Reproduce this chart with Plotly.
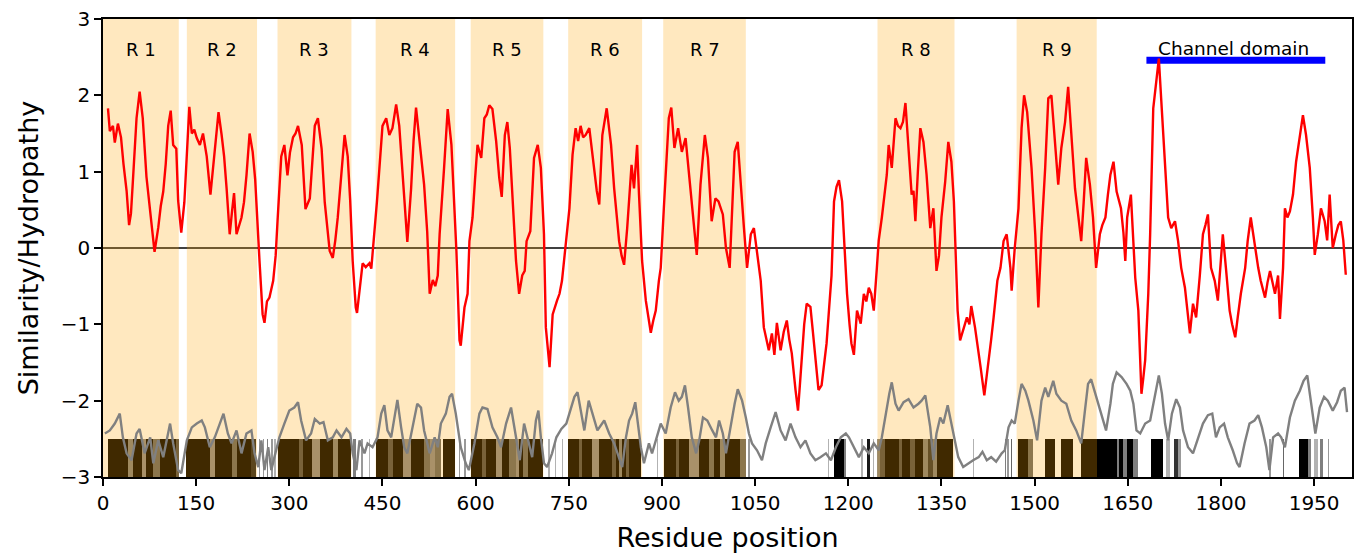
import plotly.graph_objects as go

# Repeat regions R1..R9 (residue start, residue end)
region_names = ["R 1", "R 2", "R 3", "R 4", "R 5", "R 6", "R 7", "R 8", "R 9"]
region_start = [0, 135, 281, 439, 592, 749, 902, 1247, 1471]
region_end = [122, 248, 400, 567, 709, 868, 1035, 1371, 1600]

# Channel domain span
channel_start = 1680
channel_end = 1968
channel_level = 2.46

# Hydropathy profile (residue, value)
hydro_pos = [8, 11, 16, 19, 24, 29, 33, 38, 42, 45, 48, 54, 59, 64, 70, 76, 80, 83, 89, 93, 97, 101, 105, 109, 113, 118, 121, 126, 131, 135, 139, 143, 147, 151, 156, 161, 167, 173, 177, 182, 186, 191, 195, 199, 204, 208, 211, 215, 219, 223, 227, 231, 236, 241, 245, 248, 252, 257, 260, 264, 268, 274, 278, 281, 284, 287, 292, 297, 301, 306, 310, 314, 320, 323, 326, 333, 337, 341, 346, 352, 357, 361, 365, 370, 374, 378, 384, 389, 394, 398, 402, 407, 409, 413, 416, 418, 423, 429, 432, 437, 441, 445, 450, 456, 461, 466, 472, 477, 482, 486, 490, 496, 500, 504, 509, 513, 517, 522, 526, 531, 535, 539, 542, 549, 555, 561, 565, 569, 574, 576, 582, 587, 590, 595, 599, 603, 609, 614, 618, 622, 627, 633, 638, 642, 647, 651, 655, 661, 665, 670, 675, 679, 682, 688, 694, 700, 705, 710, 713, 719, 724, 731, 735, 739, 744, 751, 756, 761, 765, 769, 773, 777, 783, 787, 791, 795, 799, 804, 811, 818, 823, 827, 831, 835, 839, 844, 851, 855, 860, 863, 868, 874, 882, 886, 890, 895, 898, 903, 907, 911, 915, 920, 926, 932, 938, 942, 946, 952, 956, 962, 969, 974, 980, 986, 991, 998, 1003, 1009, 1013, 1017, 1022, 1027, 1032, 1037, 1043, 1048, 1053, 1059, 1064, 1068, 1072, 1077, 1081, 1085, 1091, 1096, 1101, 1105, 1109, 1115, 1119, 1122, 1125, 1129, 1133, 1139, 1143, 1147, 1152, 1157, 1161, 1165, 1169, 1173, 1177, 1181, 1185, 1190, 1194, 1198, 1202, 1205, 1209, 1214, 1220, 1225, 1229, 1233, 1237, 1241, 1246, 1249, 1254, 1257, 1262, 1265, 1270, 1276, 1280, 1284, 1288, 1292, 1297, 1302, 1305, 1308, 1312, 1316, 1321, 1326, 1332, 1337, 1342, 1346, 1350, 1356, 1361, 1366, 1370, 1373, 1376, 1380, 1386, 1391, 1395, 1398, 1404, 1408, 1413, 1419, 1422, 1426, 1430, 1434, 1440, 1445, 1450, 1455, 1461, 1463, 1468, 1474, 1479, 1483, 1488, 1495, 1501, 1506, 1511, 1517, 1522, 1527, 1533, 1538, 1543, 1549, 1554, 1559, 1565, 1570, 1575, 1579, 1583, 1589, 1594, 1599, 1605, 1609, 1614, 1618, 1622, 1627, 1632, 1639, 1643, 1646, 1649, 1655, 1659, 1662, 1667, 1670, 1672, 1675, 1678, 1683, 1686, 1691, 1696, 1700, 1704, 1710, 1715, 1720, 1726, 1731, 1736, 1742, 1746, 1750, 1755, 1760, 1766, 1771, 1775, 1779, 1784, 1790, 1795, 1799, 1803, 1808, 1814, 1818, 1823, 1827, 1832, 1839, 1843, 1848, 1855, 1860, 1864, 1871, 1875, 1879, 1887, 1892, 1895, 1900, 1903, 1907, 1911, 1916, 1921, 1927, 1932, 1937, 1943, 1948, 1951, 1956, 1961, 1967, 1971, 1975, 1980, 1985, 1989, 1993, 1997, 2001]
hydro_val = [1.83, 1.53, 1.6, 1.38, 1.63, 1.45, 1.1, 0.75, 0.3, 0.45, 0.86, 1.7, 2.05, 1.7, 0.93, 0.45, 0.2, -0.05, 0.27, 0.55, 0.74, 1.1, 1.6, 1.8, 1.35, 1.3, 0.62, 0.2, 0.6, 1.3, 1.85, 1.5, 1.55, 1.44, 1.35, 1.5, 1.2, 0.7, 1.04, 1.4, 1.78, 1.48, 1.2, 0.78, 0.18, 0.5, 0.72, 0.18, 0.3, 0.4, 0.6, 0.95, 1.5, 1.26, 0.9, 0.4, -0.17, -0.87, -0.98, -0.7, -0.65, -0.43, -0.1, 0.35, 0.8, 1.2, 1.35, 0.95, 1.25, 1.45, 1.5, 1.6, 1.35, 0.9, 0.51, 0.65, 1.1, 1.6, 1.7, 1.3, 0.6, 0.25, -0.04, -0.13, 0.1, 0.4, 0.96, 1.48, 1.2, 0.62, -0.17, -0.78, -0.85, -0.55, -0.39, -0.2, -0.25, -0.2, -0.27, 0.16, 0.6, 1.04, 1.6, 1.7, 1.48, 1.57, 1.88, 1.6, 1.0, 0.5, 0.08, 0.77, 1.4, 1.84, 1.48, 1.2, 0.83, 0.21, -0.6, -0.42, -0.5, -0.36, 0.18, 1.03, 1.82, 1.35, 0.74, -0.04, -1.21, -1.28, -0.78, -0.6, 0.09, 0.4, 0.9, 1.35, 1.18, 1.7, 1.75, 1.87, 1.82, 1.4, 0.92, 0.67, 1.48, 1.65, 1.31, 0.4, -0.17, -0.6, -0.36, -0.3, 0.09, 0.22, 1.18, 1.35, 1.05, 0.18, -1.04, -1.56, -0.87, -0.69, -0.6, -0.43, 0.0, 0.52, 1.22, 1.57, 1.4, 1.6, 1.45, 1.48, 1.57, 1.3, 0.96, 0.75, 0.57, 1.48, 1.83, 1.35, 0.78, 0.4, 0.09, -0.1, -0.22, 0.26, 1.09, 0.78, 1.35, 0.7, -0.17, -0.69, -1.11, -0.95, -0.82, -0.43, -0.26, 0.52, 1.1, 1.7, 1.84, 1.31, 1.57, 1.26, 1.44, 1.1, 0.7, 0.18, -0.09, 0.83, 1.48, 1.18, 0.35, 0.65, 0.61, 0.44, 0.0, -0.26, 0.61, 1.26, 1.39, 0.78, 0.26, -0.26, 0.18, 0.26, -0.09, -0.43, -1.04, -1.2, -1.34, -1.12, -1.4, -0.98, -1.34, -1.1, -0.95, -1.2, -1.38, -1.86, -2.13, -1.8, -1.47, -1.0, -0.73, -0.77, -1.1, -1.43, -1.86, -1.8, -1.5, -1.25, -0.8, -0.36, 0.61, 0.8, 0.89, 0.61, 0.0, -0.6, -1.0, -1.25, -1.4, -0.82, -0.99, -0.6, -0.7, -0.52, -0.6, -0.82, -0.26, 0.1, 0.4, 0.61, 0.96, 1.35, 1.05, 1.7, 1.6, 1.57, 1.65, 1.9, 1.26, 0.7, 0.75, 0.35, 1.0, 1.57, 1.39, 0.96, 0.26, 0.52, -0.3, -0.1, 0.4, 0.87, 1.39, 1.13, 0.61, -0.26, -0.82, -1.21, -1.04, -0.91, -1.0, -0.76, -1.04, -1.3, -1.56, -1.93, -1.75, -1.47, -1.2, -0.91, -0.43, -0.26, 0.09, 0.18, -0.26, -0.56, 0.0, 0.52, 1.57, 2.0, 1.78, 1.05, 0.18, -0.78, 0.18, 1.05, 1.96, 2.0, 1.39, 0.83, 1.31, 1.65, 2.11, 1.48, 0.78, 0.44, 0.09, 0.6, 1.18, 0.83, 0.4, -0.26, 0.18, 0.3, 0.4, 0.7, 0.96, 1.13, 0.74, 0.52, 0.2, -0.17, 0.4, 0.7, 0.0, -0.39, -0.82, -1.5, -1.91, -1.7, -1.47, -0.6, 0.18, 1.83, 2.22, 2.48, 1.92, 1.05, 0.4, 0.26, 0.35, 0.09, -0.26, -0.52, -0.8, -1.12, -0.73, -0.91, -0.36, 0.18, 0.3, 0.44, -0.26, -0.43, -0.69, -0.2, 0.18, -0.26, -0.82, -1.0, -1.17, -0.91, -0.6, -0.26, 0.09, 0.4, 0.0, -0.26, -0.43, -0.65, -0.45, -0.3, -0.6, -0.36, -0.93, -0.26, 0.52, 0.4, 0.48, 0.7, 1.13, 1.48, 1.74, 1.48, 1.05, 0.4, -0.09, 0.18, 0.52, 0.35, 0.1, 0.7, 0.0, 0.18, 0.3, 0.35, 0.1, -0.35]

# Similarity profile (residue, value)
sim_pos = [3, 11, 19, 27, 32, 38, 46, 54, 59, 67, 76, 81, 89, 97, 108, 113, 121, 126, 135, 143, 151, 159, 164, 172, 180, 188, 194, 201, 207, 215, 223, 231, 239, 244, 250, 255, 260, 266, 271, 276, 284, 292, 300, 308, 314, 319, 327, 335, 341, 349, 355, 362, 370, 376, 384, 392, 398, 402, 408, 413, 421, 426, 434, 442, 448, 453, 458, 464, 469, 474, 480, 485, 490, 498, 506, 512, 517, 526, 534, 539, 544, 552, 558, 562, 568, 576, 584, 589, 598, 606, 611, 619, 627, 635, 641, 649, 657, 665, 671, 678, 683, 691, 697, 701, 705, 710, 715, 723, 730, 738, 746, 754, 759, 764, 770, 775, 782, 788, 796, 807, 815, 823, 831, 836, 842, 847, 852, 857, 860, 866, 871, 879, 884, 890, 898, 906, 914, 921, 927, 932, 937, 942, 948, 955, 960, 966, 973, 981, 987, 992, 998, 1003, 1011, 1017, 1022, 1029, 1035, 1040, 1045, 1053, 1061, 1067, 1075, 1083, 1091, 1099, 1107, 1115, 1123, 1131, 1139, 1147, 1155, 1164, 1172, 1180, 1188, 1196, 1201, 1209, 1217, 1225, 1233, 1241, 1249, 1254, 1260, 1266, 1270, 1276, 1281, 1289, 1297, 1305, 1313, 1318, 1324, 1332, 1337, 1342, 1348, 1353, 1360, 1366, 1372, 1377, 1385, 1393, 1401, 1410, 1416, 1423, 1430, 1438, 1447, 1452, 1458, 1463, 1468, 1474, 1479, 1485, 1490, 1498, 1504, 1511, 1517, 1522, 1530, 1535, 1543, 1551, 1559, 1567, 1575, 1581, 1586, 1591, 1599, 1607, 1615, 1622, 1626, 1632, 1640, 1648, 1654, 1659, 1664, 1670, 1678, 1686, 1694, 1700, 1705, 1710, 1715, 1721, 1728, 1734, 1739, 1747, 1755, 1763, 1771, 1779, 1786, 1792, 1798, 1805, 1811, 1819, 1826, 1830, 1838, 1846, 1854, 1860, 1866, 1873, 1878, 1884, 1892, 1897, 1903, 1911, 1919, 1927, 1933, 1939, 1945, 1952, 1959, 1966, 1972, 1980, 1987, 1993, 1999, 2003]
sim_val = [-2.43, -2.39, -2.3, -2.17, -2.48, -2.69, -2.78, -2.43, -2.37, -2.69, -2.48, -2.82, -2.52, -2.74, -2.3, -2.56, -2.91, -2.95, -2.52, -2.35, -2.3, -2.26, -2.35, -2.61, -2.48, -2.3, -2.17, -2.43, -2.56, -2.39, -2.69, -2.43, -2.39, -2.69, -2.87, -2.52, -2.91, -2.61, -2.91, -2.74, -2.48, -2.3, -2.13, -2.09, -2.02, -2.26, -2.52, -2.43, -2.24, -2.3, -2.28, -2.52, -2.48, -2.39, -2.48, -2.37, -2.43, -2.69, -2.91, -2.52, -2.69, -2.56, -2.61, -2.48, -2.17, -2.06, -2.39, -2.48, -2.22, -1.99, -2.35, -2.61, -2.69, -2.35, -2.04, -2.09, -2.39, -2.69, -2.48, -2.61, -2.3, -2.17, -1.95, -1.91, -2.17, -2.61, -2.82, -2.91, -2.56, -2.17, -2.09, -2.11, -2.35, -2.48, -2.61, -2.3, -2.09, -2.48, -2.78, -2.3, -2.48, -2.74, -2.26, -2.13, -2.48, -2.82, -2.87, -2.69, -2.48, -2.37, -2.3, -2.09, -1.95, -1.89, -2.17, -2.39, -2.0, -2.17, -2.39, -2.26, -2.43, -2.56, -2.74, -2.87, -2.48, -2.26, -2.17, -2.02, -2.22, -2.61, -2.82, -2.56, -2.69, -2.52, -2.3, -2.43, -2.09, -1.89, -2.0, -1.95, -1.8, -2.09, -2.48, -2.69, -2.52, -2.22, -2.26, -2.39, -2.48, -2.26, -2.43, -2.69, -2.3, -2.04, -1.85, -2.0, -2.22, -2.43, -2.56, -2.65, -2.78, -2.56, -2.35, -2.15, -2.39, -2.52, -2.3, -2.48, -2.61, -2.52, -2.69, -2.78, -2.74, -2.69, -2.78, -2.61, -2.48, -2.43, -2.48, -2.61, -2.74, -2.61, -2.69, -2.56, -2.65, -2.48, -2.17, -1.91, -1.76, -2.04, -2.13, -2.02, -1.98, -2.09, -2.04, -2.0, -1.93, -2.35, -2.78, -2.43, -2.22, -2.3, -2.06, -2.3, -2.56, -2.74, -2.87, -2.82, -2.78, -2.74, -2.67, -2.78, -2.74, -2.8, -2.69, -2.65, -2.35, -2.26, -2.3, -2.0, -1.78, -1.87, -2.0, -2.26, -2.52, -2.0, -1.83, -1.95, -1.74, -1.91, -2.0, -2.04, -2.26, -2.39, -2.56, -2.13, -1.78, -1.72, -1.95, -2.17, -2.39, -2.04, -1.78, -1.63, -1.69, -1.78, -1.87, -2.04, -2.39, -2.43, -2.3, -2.26, -1.91, -1.67, -1.91, -2.3, -2.52, -2.17, -1.98, -2.09, -2.39, -2.61, -2.69, -2.48, -2.3, -2.19, -2.17, -2.48, -2.35, -2.3, -2.48, -2.65, -2.82, -2.87, -2.56, -2.3, -2.26, -2.19, -2.35, -2.61, -2.91, -2.48, -2.43, -2.48, -2.61, -2.22, -2.0, -1.87, -1.74, -1.67, -2.0, -2.43, -2.09, -1.95, -2.0, -2.13, -2.02, -1.87, -1.83, -2.15]

# Per-residue conservation barcode (segment start, segment end, score 0..1)
cons_start = [8, 40, 49, 62, 70, 81, 92, 118, 133, 172, 180, 207, 215, 239, 251, 257, 264, 271, 276, 282, 316, 322, 337, 349, 370, 378, 402, 416, 428, 440, 459, 467, 483, 496, 517, 526, 534, 547, 573, 582, 593, 611, 617, 633, 643, 654, 665, 670, 676, 684, 717, 728, 739, 749, 767, 772, 788, 799, 820, 826, 831, 836, 842, 847, 892, 903, 922, 927, 943, 960, 976, 984, 994, 1002, 1026, 1039, 1167, 1177, 1193, 1221, 1230, 1240, 1246, 1251, 1259, 1281, 1286, 1300, 1308, 1321, 1329, 1337, 1343, 1400, 1452, 1456, 1462, 1474, 1490, 1517, 1543, 1575, 1600, 1632, 1636, 1642, 1648, 1659, 1688, 1712, 1724, 1731, 1878, 1900, 1926, 1940, 1950, 1960, 1972]
cons_end = [40, 49, 62, 70, 81, 92, 118, 122, 172, 180, 207, 215, 239, 247, 253, 259, 266, 273, 278, 316, 322, 337, 349, 370, 378, 399, 408, 418, 430, 459, 467, 483, 496, 517, 526, 534, 544, 566, 575, 585, 611, 617, 633, 643, 654, 665, 670, 676, 684, 708, 719, 730, 741, 767, 772, 788, 799, 820, 826, 831, 836, 842, 847, 866, 894, 922, 927, 943, 960, 976, 984, 994, 1002, 1026, 1035, 1041, 1169, 1193, 1196, 1223, 1235, 1242, 1251, 1259, 1281, 1286, 1300, 1308, 1321, 1329, 1337, 1343, 1368, 1402, 1454, 1458, 1464, 1490, 1498, 1533, 1562, 1600, 1632, 1636, 1642, 1648, 1659, 1667, 1707, 1718, 1731, 1736, 1881, 1902, 1940, 1945, 1956, 1965, 1974]
cons_score = [1, 0.5, 1, 0.45, 1, 0.6, 1, 0.7, 1, 0.45, 1, 0.6, 1, 0.85, 0.4, 0.4, 0.5, 0.4, 0.3, 1, 0.7, 1, 0.45, 1, 0.5, 1, 0.5, 0.4, 0.3, 1, 0.7, 1, 0.45, 1, 0.6, 0.45, 0.6, 1, 0.4, 0.4, 1, 0.7, 1, 0.45, 1, 0.6, 0.45, 1, 0.6, 1, 0.3, 0.3, 0.3, 1, 0.7, 1, 0.45, 1, 0.7, 1, 0.5, 1, 0.7, 1, 0.3, 1, 0.7, 1, 0.45, 1, 0.6, 1, 0.5, 1, 0.6, 0.4, 0.3, 1, 0.5, 0.3, 0.9, 0.3, 0.5, 0.7, 1, 0.7, 1, 0.7, 1, 0.5, 0.8, 0.5, 1, 0.3, 0.5, 0.4, 0.6, 1, 0.6, 1, 1, 1, 1, 0.5, 1, 0.5, 1, 0.5, 1, 0.3, 0.8, 0.4, 0.4, 0.6, 1, 0.5, 0.3, 0.5, 0.4]

x_ticks = [0, 150, 300, 450, 600, 750, 900, 1050, 1200, 1350, 1500, 1650, 1800, 1950]
y_ticks = [-3, -2, -1, 0, 1, 2, 3]

FONT = "DejaVu Sans"
SHADE = "rgba(255,165,0,0.25)"


def in_region(pos):
    return any(s <= pos <= e for s, e in zip(region_start, region_end))


# barcode colour: black ink, seen through the orange tint inside repeat regions
bar_x, bar_w, bar_col = [], [], []
for s, e, c in zip(cons_start, cons_end, cons_score):
    mid = (s + e) / 2
    bar_x.append(mid)
    bar_w.append(e - s)
    if in_region(mid):
        bar_col.append(f"rgba(64,41,0,{c})")
    else:
        bar_col.append(f"rgba(0,0,0,{c})")

fig = go.Figure()

fig.add_trace(go.Bar(
    x=bar_x, y=[0.5] * len(bar_x), base=-3, width=bar_w,
    marker=dict(color=bar_col, line=dict(width=0)),
    hoverinfo="skip", showlegend=False,
))

fig.add_trace(go.Scatter(
    x=sim_pos, y=sim_val, mode="lines",
    line=dict(color="#808080", width=2.4), showlegend=False,
))

fig.add_trace(go.Scatter(
    x=[channel_start, channel_end], y=[channel_level, channel_level], mode="lines",
    line=dict(color="#0000ff", width=7), showlegend=False,
))

fig.add_trace(go.Scatter(
    x=hydro_pos, y=hydro_val, mode="lines",
    line=dict(color="#ff0000", width=2.4), showlegend=False,
))

shapes = []
for s, e in zip(region_start, region_end):
    shapes.append(dict(type="rect", xref="x", yref="y", x0=s, x1=e, y0=-3, y1=3,
                       fillcolor=SHADE, line=dict(width=0), layer="below"))
shapes.append(dict(type="line", xref="paper", yref="y", x0=0, x1=1, y0=0, y1=0,
                   line=dict(color="black", width=1.5), layer="below"))

annotations = []
for name, s, e in zip(region_names, region_start, region_end):
    annotations.append(dict(x=(s + e) / 2, y=2.6, xref="x", yref="y", text=name,
                            showarrow=False, font=dict(family=FONT, size=18, color="black")))
annotations.append(dict(x=(channel_start + channel_end) / 2 - 3, y=2.62, xref="x", yref="y",
                        text="Channel domain", showarrow=False,
                        font=dict(family=FONT, size=18.5, color="black")))

fig.update_layout(
    width=1361, height=559,
    margin=dict(l=103, r=7, t=17, b=82),
    paper_bgcolor="white", plot_bgcolor="white",
    font=dict(family=FONT, color="black"),
    barmode="overlay", bargap=0,
    shapes=shapes, annotations=annotations,
    showlegend=False,
)

fig.update_xaxes(
    range=[0, 2011], tickvals=x_ticks, ticks="outside", ticklen=7, tickwidth=1.5,
    tickcolor="black", showline=True, linecolor="black", linewidth=1.5, mirror=True,
    showgrid=False, zeroline=False, tickfont=dict(family=FONT, size=20, color="black"),
    title=dict(text="Residue position", font=dict(family=FONT, size=27, color="black"), standoff=14),
)
fig.update_yaxes(
    range=[-3, 3], tickvals=y_ticks, ticks="outside", ticklen=7, tickwidth=1.5,
    tickcolor="black", showline=True, linecolor="black", linewidth=1.5, mirror=True,
    showgrid=False, zeroline=False, tickfont=dict(family=FONT, size=20, color="black"),
    title=dict(text="Similarity/Hydropathy", font=dict(family=FONT, size=27, color="black"), standoff=14),
)

fig.write_html("out.html")
